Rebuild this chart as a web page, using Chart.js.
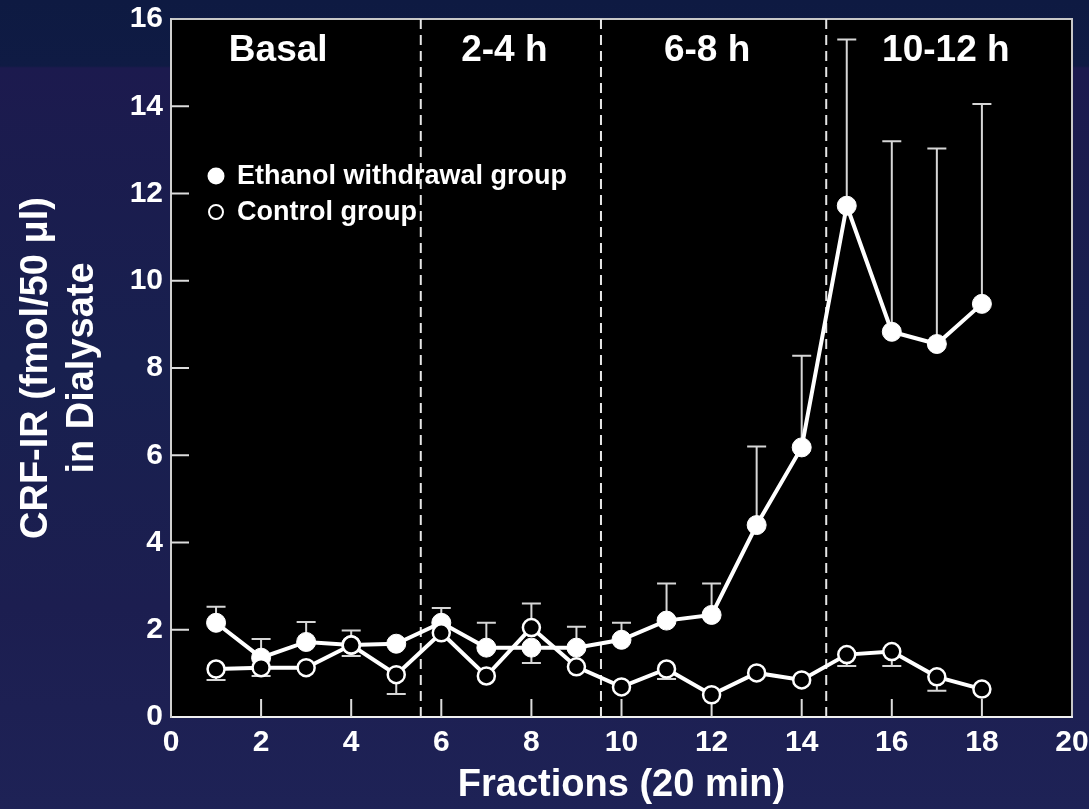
<!DOCTYPE html>
<html>
<head>
<meta charset="utf-8">
<script src="https://cdn.jsdelivr.net/npm/chart.js@4.4.1/dist/chart.umd.min.js"></script>
<style>
  html, body { margin: 0; padding: 0; }
  body {
    width: 1089px; height: 809px; overflow: hidden;
    background: linear-gradient(to bottom, #0e1a42 0px, #0f1b44 66px, #1c1a4e 68px, #18204f 45%, #1c1e50 75%, #1e2256 100%);
  }
  canvas { display: block; }
</style>
</head>
<body>
<canvas id="chart" width="1089" height="809"></canvas>
<script>
// fraction number (20 min each)
const fractions = [1, 2, 3, 4, 5, 6, 7, 8, 9, 10, 11, 12, 13, 14, 15, 16, 17, 18];

// CRF-IR means, fmol/50 ul
const ethanolMean = [2.16, 1.36, 1.72, 1.65, 1.68, 2.16, 1.59, 1.59, 1.59, 1.77, 2.21, 2.34, 4.4, 6.18, 11.72, 8.83, 8.55, 9.47];
const controlMean = [1.1, 1.13, 1.13, 1.65, 0.97, 1.93, 0.94, 2.05, 1.15, 0.69, 1.1, 0.51, 1.01, 0.85, 1.43, 1.5, 0.92, 0.64];

// SEM, only the half that is drawn
const ethanolErrUp = [0.37, 0.43, 0.46, 0.33, 0, 0.34, 0.57, 0, 0.48, 0.39, 0.85, 0.72, 1.8, 2.1, 3.81, 4.37, 4.48, 4.58];
const ethanolErrDown = [0, 0, 0, 0, 0, 0, 0, 0.35, 0, 0, 0, 0, 0, 0, 0, 0, 0, 0];
const controlErrUp = [0, 0, 0, 0, 0, 0, 0, 0.55, 0, 0, 0, 0, 0, 0, 0, 0, 0, 0];
const controlErrDown = [0.25, 0.19, 0, 0.25, 0.44, 0, 0, 0, 0, 0, 0.23, 0, 0, 0, 0.26, 0.33, 0.32, 0];

// withdrawal periods
const periodBreaks = [5.5, 9.5, 14.5];
const periodLabels = ['Basal', '2-4 h', '6-8 h', '10-12 h'];

const xTicks = [0, 2, 4, 6, 8, 10, 12, 14, 16, 18, 20];
const yTicks = [0, 2, 4, 6, 8, 10, 12, 14, 16];

const FONT = "'Liberation Sans', Arial, Helvetica, sans-serif";
Chart.defaults.font.family = FONT;
Chart.defaults.color = '#ffffff';

const toPoints = (ys) => fractions.map((x, i) => ({ x, y: ys[i] }));

const plotFrame = {
  id: 'plotFrame',
  beforeDraw(chart) {
    const { ctx, chartArea: a } = chart;
    ctx.save();
    ctx.fillStyle = '#000000';
    ctx.fillRect(a.left, a.top, a.right - a.left, a.bottom - a.top);
    ctx.strokeStyle = '#c8c8c8';
    ctx.lineWidth = 2;
    ctx.strokeRect(a.left, a.top, a.right - a.left, a.bottom - a.top);
    ctx.restore();
  },
};

const decorations = {
  id: 'decorations',
  beforeDatasetsDraw(chart) {
    const { ctx, chartArea: a, scales: { x, y } } = chart;
    ctx.save();

    // inward tick marks
    ctx.strokeStyle = '#dcdcdc';
    ctx.lineWidth = 2;
    ctx.beginPath();
    xTicks.slice(1, -1).forEach((v) => {
      const px = x.getPixelForValue(v);
      ctx.moveTo(px, a.bottom);
      ctx.lineTo(px, a.bottom - 18);
    });
    yTicks.slice(1, -1).forEach((v) => {
      const py = y.getPixelForValue(v);
      ctx.moveTo(a.left, py);
      ctx.lineTo(a.left + 18, py);
    });
    ctx.stroke();

    // period separators
    ctx.setLineDash([10, 6]);
    ctx.strokeStyle = '#e6e6e6';
    ctx.beginPath();
    periodBreaks.forEach((v) => {
      const px = x.getPixelForValue(v) + 2;
      ctx.moveTo(px, a.top);
      ctx.lineTo(px, a.bottom);
    });
    ctx.stroke();
    ctx.setLineDash([]);

    // period labels
    const labelX = [2.38, 7.4, 11.9, 17.2];
    ctx.fillStyle = '#ffffff';
    ctx.font = 'bold 37px ' + FONT;
    ctx.textAlign = 'center';
    ctx.textBaseline = 'middle';
    periodLabels.forEach((t, i) => ctx.fillText(t, x.getPixelForValue(labelX[i]), a.top + 32));

    // error bars
    ctx.strokeStyle = '#d6d6d6';
    ctx.lineWidth = 2;
    const bars = (mean, up, down) => mean.forEach((m, i) => {
      const px = x.getPixelForValue(fractions[i]);
      [[up[i], 1], [down[i], -1]].forEach(([e, s]) => {
        if (!e) return;
        const p0 = y.getPixelForValue(m);
        const p1 = y.getPixelForValue(m + s * e);
        ctx.beginPath();
        ctx.moveTo(px, p0);
        ctx.lineTo(px, p1);
        ctx.moveTo(px - 9.5, p1);
        ctx.lineTo(px + 9.5, p1);
        ctx.stroke();
      });
    });
    bars(ethanolMean, ethanolErrUp, ethanolErrDown);
    bars(controlMean, controlErrUp, controlErrDown);

    // legend
    const lx = a.left + 45;
    const ly = a.top + 157;
    ctx.fillStyle = '#ffffff';
    ctx.beginPath();
    ctx.arc(lx, ly, 8.5, 0, Math.PI * 2);
    ctx.fill();
    ctx.fillStyle = '#000000';
    ctx.beginPath();
    ctx.arc(lx, ly + 36, 7, 0, Math.PI * 2);
    ctx.fill();
    ctx.strokeStyle = '#ffffff';
    ctx.lineWidth = 2;
    ctx.stroke();
    ctx.fillStyle = '#ffffff';
    ctx.font = 'bold 27px ' + FONT;
    ctx.textAlign = 'left';
    chart.data.datasets.forEach((ds, i) => ctx.fillText(ds.label, lx + 21, ly + 36 * i + 1));

    ctx.restore();
  },
};

const config = {
  type: 'line',
  data: {
    datasets: [
      {
        label: 'Ethanol withdrawal group',
        data: toPoints(ethanolMean),
        borderColor: '#ffffff',
        borderWidth: 4,
        backgroundColor: '#ffffff',
        pointRadius: 9.5,
        pointBorderWidth: 1,
        pointBorderColor: '#ffffff',
        pointBackgroundColor: '#ffffff',
        order: 2,
      },
      {
        label: 'Control group',
        data: toPoints(controlMean),
        borderColor: '#ffffff',
        borderWidth: 4,
        pointRadius: 8.5,
        pointBorderWidth: 2.5,
        pointBorderColor: '#ffffff',
        pointBackgroundColor: '#000000',
        order: 1,
      },
    ],
  },
  options: {
    responsive: false,
    animation: false,
    devicePixelRatio: 1,
    layout: { padding: { top: 19, right: 0, bottom: 0, left: 0 } },
    plugins: {
      legend: { display: false },
      tooltip: { enabled: false },
    },
    scales: {
      x: {
        type: 'linear',
        min: 0,
        max: 20,
        afterBuildTicks: (s) => { s.ticks = xTicks.map((v) => ({ value: v })); },
        afterFit: (s) => { s.height = 92; s.paddingLeft = 0; s.paddingRight = 17; },
        grid: { display: false, drawTicks: false },
        border: { display: true, color: '#f0f0f0', width: 2 },
        ticks: { color: '#ffffff', padding: 8, maxRotation: 0, font: { size: 30, weight: 'bold' } },
        title: {
          display: true,
          text: 'Fractions (20 min)',
          color: '#ffffff',
          font: { size: 38, weight: 'bold' },
          padding: { top: 0, bottom: 1 },
        },
      },
      y: {
        min: 0,
        max: 16,
        afterBuildTicks: (s) => { s.ticks = yTicks.map((v) => ({ value: v })); },
        afterFit: (s) => { s.width = 171; s.paddingTop = 0; s.paddingBottom = 0; },
        grid: { display: false, drawTicks: false },
        border: { display: true, color: '#d0d0d0', width: 2 },
        ticks: { color: '#ffffff', padding: 8, font: { size: 30, weight: 'bold' } },
        title: {
          display: true,
          text: ['CRF-IR (fmol/50 \u03bcl)', 'in Dialysate'],
          color: '#ffffff',
          font: { size: 38, weight: 'bold', lineHeight: 1.2 },
          padding: { top: 14, bottom: 0 },
        },
      },
    },
  },
  plugins: [plotFrame, decorations],
};

new Chart(document.getElementById('chart').getContext('2d'), config);
</script>
</body>
</html>
